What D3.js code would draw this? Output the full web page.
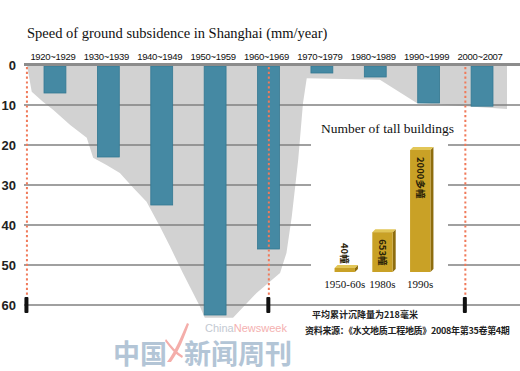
<!DOCTYPE html>
<html>
<head>
<meta charset="utf-8">
<script src="https://cdn.jsdelivr.net/npm/d3@7"></script>
<style>
  body { margin: 0; background: #fff; }
  svg { display: block; }
</style>
</head>
<body>
<div class="chart"></div>
<script>
var svgWidth = 520;
var svgHeight = 371;

// decades and subsidence speed (mm/year)
var decades = ["1920~1929", "1930~1939", "1940~1949", "1950~1959", "1960~1969",
  "1970~1979", "1980~1989", "1990~1999", "2000~2007"];
var speeds = [7, 23, 35, 62.5, 46, 2, 3, 9.5, 10.3];
var yTicks = [0, 10, 20, 30, 40, 50, 60];

// grey envelope behind the bars (year, mm)
var envYears = [1919.8, 1920.7, 1922.8, 1924.7, 1927.9, 1931, 1932.2, 1934.7, 1937.2, 1939.7,
  1942.2, 1944.7, 1946.6, 1949, 1952.2, 1953.1, 1958.4, 1962.8, 1967.2, 1968.4, 1969.4,
  1970.6, 1971.5, 1972.2, 1985.9, 1992.8, 2009.7, 2009.7];
var envDepths = [0, 6.7, 9.2, 11.2, 15, 18.2, 23.2, 25, 27, 30.7,
  34.2, 40.4, 45.4, 52, 60.4, 63.2, 63.2, 57, 52, 47, 37.9,
  23.7, 9.5, 3.3, 3.7, 9.5, 11, 0];

// red dotted marker years
var markerYears = [1919.8, 1965.1, 2001.9];

// tall buildings inset
var buildingCats = ["1950-60s", "1980s", "1990s"];
var buildingCounts = [40, 653, 2000];
var buildingLabels = ["40幢", "653幢", "2000多幢"];

var svg = d3.select(".chart")
  .append("svg")
  .attr("width", svgWidth)
  .attr("height", svgHeight);

var xBand = d3.scaleBand()
  .domain(decades)
  .range([28, 509])
  .paddingInner(0.59)
  .paddingOuter(0.3);

var xYear = d3.scaleLinear()
  .domain([1920, 2010])
  .range([28, 508.6]);

var yScale = d3.scaleLinear()
  .domain([0, 60])
  .range([65, 305]);

// envelope
var area = d3.line()
  .x(d => xYear(d[0]))
  .y(d => yScale(d[1]));

svg.append("path")
  .attr("d", area(d3.zip(envYears, envDepths)) + "Z")
  .attr("fill", "#d2d2d2");

// gridlines
svg.append("g")
  .selectAll("line")
  .data(yTicks.slice(1))
  .enter()
  .append("line")
  .attr("x1", 24)
  .attr("x2", svgWidth)
  .attr("y1", d => yScale(d))
  .attr("y2", d => yScale(d))
  .attr("stroke", "#808080")
  .attr("stroke-width", 1.4);

// white box for the inset
svg.append("rect")
  .attr("x", 311)
  .attr("y", 112)
  .attr("width", 137)
  .attr("height", 184)
  .attr("fill", "#fff");

// bars
svg.append("g")
  .selectAll("rect")
  .data(speeds)
  .enter()
  .append("rect")
  .attr("x", (d, i) => xBand(decades[i]))
  .attr("y", yScale(0) + 1)
  .attr("width", xBand.bandwidth())
  .attr("height", d => yScale(d) - yScale(0) - 1)
  .attr("fill", "#4589a3")
  .attr("stroke", "#337892")
  .attr("stroke-width", 0.8);

// zero line
svg.append("line")
  .attr("x1", 24)
  .attr("x2", svgWidth)
  .attr("y1", yScale(0) - 0.5)
  .attr("y2", yScale(0) - 0.5)
  .attr("stroke", "#8c8c8c")
  .attr("stroke-width", 3);

// red dotted lines and black ticks
svg.append("g")
  .selectAll("line")
  .data(markerYears)
  .enter()
  .append("line")
  .attr("x1", d => xYear(d))
  .attr("x2", d => xYear(d))
  .attr("y1", yScale(0) + 2)
  .attr("y2", 298)
  .attr("stroke", "#f07a5a")
  .attr("stroke-width", 2)
  .attr("stroke-dasharray", "2.2 2.6");

svg.append("g")
  .selectAll("rect")
  .data(markerYears)
  .enter()
  .append("rect")
  .attr("x", d => xYear(d) - 2.5)
  .attr("y", 297)
  .attr("width", 4)
  .attr("height", 16)
  .attr("rx", 1)
  .attr("fill", "#111");

// y labels
svg.append("g")
  .selectAll("text")
  .data(yTicks)
  .enter()
  .append("text")
  .attr("x", 16)
  .attr("y", d => yScale(d) + 5)
  .attr("text-anchor", "end")
  .attr("font-family", "Liberation Sans, Arial, sans-serif")
  .attr("font-weight", "bold")
  .attr("font-size", "13px")
  .attr("fill", "#222")
  .text(d => d);

// decade labels
svg.append("g")
  .selectAll("text")
  .data(decades)
  .enter()
  .append("text")
  .attr("x", d => xBand(d) + xBand.bandwidth() / 2 - 2)
  .attr("y", 60)
  .attr("text-anchor", "middle")
  .attr("font-family", "Liberation Sans Narrow, Liberation Sans, sans-serif")
  .attr("font-size", "9.5px")
  .attr("letter-spacing", "-0.3px")
  .attr("fill", "#111")
  .text(d => d);

// title
svg.append("text")
  .attr("x", 27)
  .attr("y", 38)
  .attr("font-family", "Liberation Serif, DejaVu Serif, serif")
  .attr("font-size", "14.5px")
  .attr("fill", "#111")
  .text("Speed of ground subsidence in Shanghai (mm/year)");

// ---- inset: number of tall buildings ----
var inset = svg.append("g");

inset.append("text")
  .attr("x", 321)
  .attr("y", 133)
  .attr("font-family", "Liberation Serif, DejaVu Serif, serif")
  .attr("font-size", "13.5px")
  .attr("fill", "#111")
  .text("Number of tall buildings");

var bx = d3.scaleBand()
  .domain(buildingCats)
  .range([327, 438])
  .paddingInner(0.46)
  .paddingOuter(0.2);

var by = d3.scaleLinear()
  .domain([0, 2000])
  .range([272, 150]);

var depth = 3;
buildingCounts.forEach(function(v, i) {
  var x0 = bx(buildingCats[i]);
  var w = bx.bandwidth();
  var top = Math.min(by(v), by(0) - 4);
  var bottom = by(0);
  // right side
  inset.append("path")
    .attr("d", `M${x0 + w},${top} L${x0 + w + depth},${top - depth} L${x0 + w + depth},${bottom - depth} L${x0 + w},${bottom} Z`)
    .attr("fill", "#8e6d0e");
  // top
  inset.append("path")
    .attr("d", `M${x0},${top} L${x0 + depth},${top - depth} L${x0 + w + depth},${top - depth} L${x0 + w},${top} Z`)
    .attr("fill", "#e2c657");
  // front
  inset.append("rect")
    .attr("x", x0)
    .attr("y", top)
    .attr("width", w)
    .attr("height", bottom - top)
    .attr("fill", "#c9a126");

  var cx = x0 + w / 2;
  var ty = i === 0 ? 243 : top + 7;
  inset.append("text")
    .attr("transform", `translate(${cx - 3.5},${ty}) rotate(90)`)
    .attr("font-family", "Noto Sans CJK SC, sans-serif")
    .attr("font-weight", "bold")
    .attr("font-size", "9.5px")
    .attr("fill", "#2a2208")
    .text(buildingLabels[i]);

  inset.append("text")
    .attr("x", cx)
    .attr("y", 288)
    .attr("text-anchor", "middle")
    .attr("font-family", "Liberation Serif, DejaVu Serif, serif")
    .attr("font-size", "11px")
    .attr("fill", "#111")
    .text(buildingCats[i]);
});

// notes
svg.append("text")
  .attr("x", 312)
  .attr("y", 318)
  .attr("font-family", "Noto Sans CJK SC, sans-serif")
  .attr("font-weight", "bold")
  .attr("font-size", "9px")
  .attr("fill", "#222")
  .text("平均累计沉降量为218毫米");

svg.append("text")
  .attr("x", 305)
  .attr("y", 334)
  .attr("font-family", "Noto Sans CJK SC, sans-serif")
  .attr("font-weight", "bold")
  .attr("font-size", "9px")
  .attr("letter-spacing", "-0.3px")
  .attr("fill", "#222")
  .text("资料来源：《水文地质工程地质》2008年第35卷第4期");

// watermark
var wm = svg.append("g").attr("opacity", 0.85);
wm.append("text")
  .attr("x", 113)
  .attr("y", 364)
  .attr("font-family", "Noto Sans CJK SC, sans-serif")
  .attr("font-weight", "bold")
  .attr("font-size", "27px")
  .attr("fill", "#a6bbd0")
  .text("中国");
wm.append("text")
  .attr("x", 184)
  .attr("y", 364)
  .attr("font-family", "Noto Sans CJK SC, sans-serif")
  .attr("font-weight", "bold")
  .attr("font-size", "27px")
  .attr("fill", "#a6bbd0")
  .text("新闻周刊");
wm.append("path")
  .attr("d", "M187,323 C181,336 176,350 167,362 L171,362 C179,351 184,338 189,324 Z M165,341 C170,348 175,354 182,358 L183,356 C177,352 171,346 166,339 Z")
  .attr("fill", "#f3a09c");
var cn = wm.append("text")
  .attr("x", 205)
  .attr("y", 332)
  .attr("font-family", "Liberation Sans, Arial, sans-serif")
  .attr("font-size", "11px");
cn.append("tspan").attr("fill", "#b9c1cb").text("China");
cn.append("tspan").attr("fill", "#f3a3a3").text("Newsweek");
</script>
</body>
</html>
